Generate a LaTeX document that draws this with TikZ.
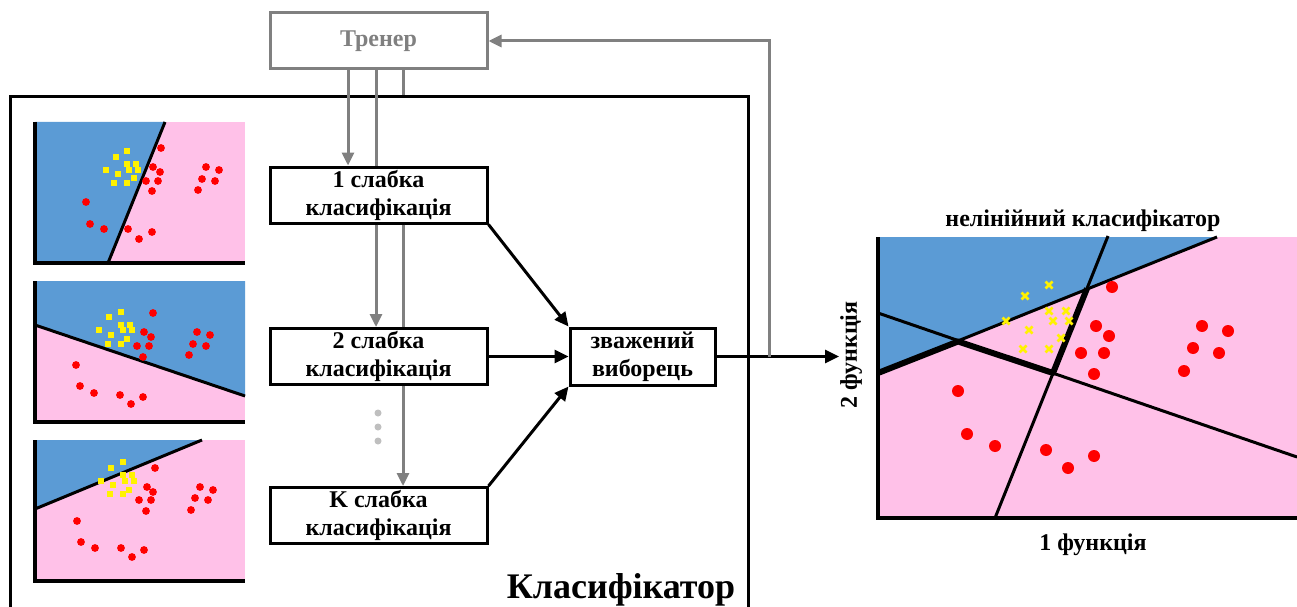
\documentclass[tikz,border=0pt]{standalone}
\usepackage{fontspec}
\setmainfont{Liberation Serif}
\usetikzlibrary{arrows.meta}
\definecolor{bl}{HTML}{5B9BD5}
\definecolor{pk}{HTML}{FFC1E8}
\definecolor{gr}{HTML}{808080}
\definecolor{dotg}{HTML}{BFBFBF}
\begin{document}
\begin{tikzpicture}[x=1pt,y=-1pt,
  box/.style={draw=black, line width=3pt, minimum width=217pt, minimum height=56pt, inner sep=0pt, align=center, font=\fontsize{24}{28}\selectfont\bfseries},
  tbox/.style={box, draw=gr, text=gr},
  blk/.style={line width=3pt, -{Triangle[length=14pt,width=13pt]}},
  gline/.style={draw=gr, line width=3pt},
  garrow/.style={gline, -{Triangle[length=13pt,width=12pt]}},
  axisln/.style={line width=4pt},
  bnd/.style={line width=3pt},
  lbl/.style={font=\fontsize{24}{28}\selectfont\bfseries, inner sep=0pt},
  ysq/.style={fill=yellow},
  ycross/.style={draw=yellow, line width=2.6pt}
]
\useasboundingbox (0,0) rectangle (1297,607);
\fill[white] (0,0) rectangle (1297,607);

% classifier frame
\node[draw=black, line width=3pt, minimum width=738pt, minimum height=523pt, inner sep=0pt] (clf) at (379,358.5) {};
\node[lbl, font=\fontsize{36}{40}\selectfont\bfseries, anchor=base] (clflbl) at (621,598) {Класифікатор};

% nodes
\node[tbox] (trainer) at (378.5,41) {Тренер};
\node[box] (b1) at (378.5,195) {1 слабка\\класифікація};
\node[box] (b2) at (378.5,356.5) {2 слабка\\класифікація};
\node[box] (bk) at (378.5,515.5) {K слабка\\класифікація};
\node[box, minimum width=145pt, minimum height=57pt] (vote) at (642.5,356.5) {зважений\\виборець};

% gray trainer lines
\coordinate (g1) at (348,0);
\coordinate (g2) at (376,0);
\coordinate (g3) at (403,0);
\draw[garrow] (trainer.south -| g1) -- (b1.north -| g1);
\draw[gline] (trainer.south -| g2) -- (b1.north -| g2);
\draw[gline] (trainer.south -| g3) -- (clf.north -| g3);
\draw[garrow] (b1.south -| g2) -- (b2.north -| g2);
\draw[gline] (b1.south -| g3) -- (b2.north -| g3);
\draw[garrow] (b2.south -| g3) -- (bk.north -| g3);

% dots
\foreach \yy in {413,427,441} \fill[dotg] (378,\yy) circle (3.5);

% black arrows
\draw[blk] (b1.south east) -- (vote.north west);
\draw[blk] (b2.east) -- (vote.west);
\draw[blk] (bk.north east) -- (vote.south west);

% output and feedback
\coordinate (outend) at (839,356.5);
\coordinate (fb) at (769,356.5);
\draw[blk] (vote.east) -- (outend);
\draw[garrow] (fb) |- (trainer.east);

% ---------- left panel 1
\fill[pk] (35,122) rectangle (245,263);
\fill[bl] (35,122) -- (165,122) -- (108,263) -- (35,263) -- cycle;
\draw[bnd] (165,122) -- (108,263);
\foreach \p in {(127,151),(116,157),(127,164),(136,164),(106,170),(129,170),(138,170),(118,174),(134,178),(114,183),(127,183)}
  \fill[ysq] \p ++(-2.8,-2.8) rectangle ++(5.6,5.6);
\foreach \p in {(161,148),(153,167),(160,172),(146,181),(158,181),(152,191),(206,167),(219,170),(202,179),(215,181),(198,190),(86,202),(90,224),(104,229),(128,229),(139,239),(152,232)}
  \fill[red] \p circle (3.9);
\draw[axisln] (35,122) -- (35,263) -- (245,263);

% ---------- left panel 2
\fill[pk] (35,281) rectangle (245,422);
\fill[bl] (35,281) -- (245,281) -- (245,396) -- (35,325) -- cycle;
\draw[bnd] (35,325) -- (245,396);
\foreach \p in {(121,312),(109,317),(121,325),(130,325),(99,330),(123,330),(132,330),(111,335),(127,339),(108,344),(121,344)}
  \fill[ysq] \p ++(-2.8,-2.8) rectangle ++(5.6,5.6);
\foreach \p in {(153,313),(144,332),(151,337),(137,346),(149,346),(143,357),(197,332),(210,335),(193,344),(206,346),(189,355),(76,365),(80,386),(94,393),(120,395),(131,404),(143,397)}
  \fill[red] \p circle (3.9);
\draw[axisln] (35,281) -- (35,422) -- (245,422);

% ---------- left panel 3
\fill[pk] (35,440) rectangle (245,581);
\fill[bl] (35,440) -- (202,440) -- (35,509) -- cycle;
\draw[bnd] (35,509) -- (202,440);
\foreach \p in {(123,462),(111,468),(123,475),(132,475),(101,481),(125,481),(134,481),(113,485),(129,490),(110,494),(123,494)}
  \fill[ysq] \p ++(-2.8,-2.8) rectangle ++(5.6,5.6);
\foreach \p in {(155,468),(147,487),(153,492),(139,500),(151,500),(146,511),(200,487),(213,490),(195,498),(208,500),(191,510),(77,521),(81,542),(95,548),(121,548),(132,557),(144,550)}
  \fill[red] \p circle (3.9);
\draw[axisln] (35,440) -- (35,581) -- (245,581);

% ---------- right plot
\fill[pk] (878,237) rectangle (1297,518);
\fill[bl] (878,237) -- (1217,237) -- (878,373) -- cycle;
\draw[bnd] (878,373) -- (1217,237);
\draw[bnd] (1108,236) -- (995,518);
\draw[bnd] (878,313) -- (1297,457);
\draw[line width=6pt, line join=round] (878,373) -- (958,341.5) -- (1053,373) -- (1087,288.5);
\foreach \p in {(1049,285),(1025,296),(1006,321),(1049,311),(1066,311),(1053,321),(1069,321),(1029,330),(1061,338),(1023,349),(1049,349)}
  \draw[ycross] \p ++(-3.5,-3.5) -- ++(7,7) \p ++(-3.5,3.5) -- ++(7,-7);
\foreach \p in {(1112,287),(1096,326),(1109,336),(1081,353),(1104,353),(1094,374),(1202,326),(1228,331),(1193,348),(1219,353),(1184,371),(958,391),(967,434),(995,446),(1046,450),(1068,468),(1094,456)}
  \fill[red] \p circle (6);
\draw[axisln] (878,237) -- (878,518) -- (1297,518);

\node[lbl] (nltitle) at (1083,221) {нелінійний класифікатор};
\node[lbl] (f1) at (1093,545) {1 функція};
\node[lbl, rotate=90] (f2) at (851,355) {2 функція};
\end{tikzpicture}
\end{document}
